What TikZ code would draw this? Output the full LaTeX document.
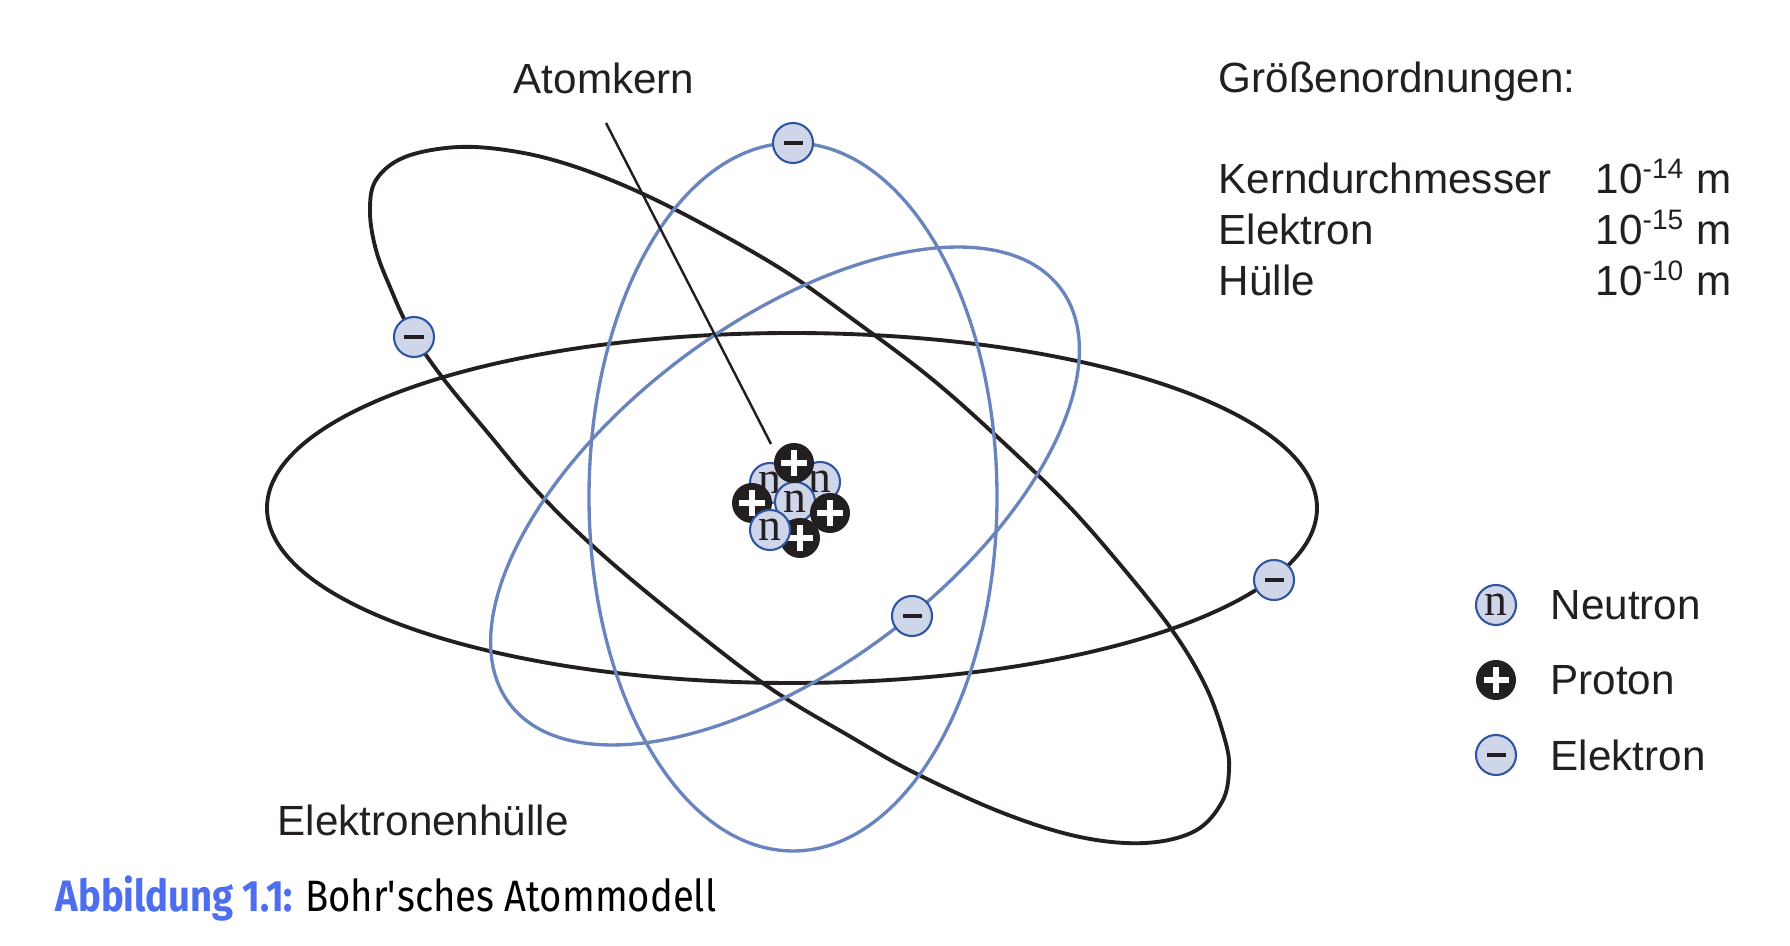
\documentclass[tikz,border=0pt]{standalone}
\usepackage{fontspec}
\setmainfont{Liberation Sans}
\newfontfamily\nfont{Liberation Serif}
\newfontfamily\capfont[FakeStretch=0.87]{Fira Sans}
\usetikzlibrary{positioning}
\definecolor{bahnblau}{RGB}{106,132,190}
\definecolor{randblau}{RGB}{47,85,160}
\definecolor{teilchen}{RGB}{208,214,234}
\definecolor{schwarz}{RGB}{35,31,32}
\definecolor{abbblau}{RGB}{78,110,240}

\tikzset{
  schwarzbahn/.style={draw=schwarz, line width=1.1pt},
  blaubahn/.style={draw=bahnblau, line width=0.95pt},
  txt/.style={text=schwarz, font=\fontsize{12}{14.5}\selectfont, inner sep=0pt},
  neutron/.style={circle, draw=randblau, line width=0.6pt, fill=teilchen,
    minimum size=4mm, inner sep=0pt, text=schwarz,
    font=\nfont\fontsize{13}{13}\selectfont},
  proton/.style={circle, fill=schwarz, minimum size=4mm, inner sep=0pt,
    path picture={
      \draw[white, line width=1.6pt] ([xshift=-1.25mm]path picture bounding box.center) -- ([xshift=1.25mm]path picture bounding box.center);
      \draw[white, line width=1.6pt] ([yshift=-1.25mm]path picture bounding box.center) -- ([yshift=1.25mm]path picture bounding box.center);}},
  elektron/.style={circle, draw=randblau, line width=0.6pt, fill=teilchen,
    minimum size=4mm, inner sep=0pt,
    path picture={
      \draw[schwarz, line width=1.2pt] ([xshift=-0.95mm]path picture bounding box.center) -- ([xshift=0.95mm]path picture bounding box.center);}}
}

\begin{document}
\begin{tikzpicture}[x=0.01cm, y=-0.01cm]
\useasboundingbox (0,0) rectangle (1790,946);

% Bahnen
\draw[schwarzbahn] (792,508) ellipse [x radius=525, y radius=175];
\draw[schwarzbahn] plot[smooth cycle, tension=0.6] coordinates {(459,147) (518,152) (576,167) (641,193) (710,228) (786,272) (851,318) (927,375) (992,432) (1063,500) (1118,562) (1172,630) (1206,687) (1225,740) (1229,770) (1222,802) (1195,831) (1145,843) (1080,837) (1003,813) (915,773) (851,737) (767,686) (671,612) (595,548) (537,491) (488,433) (442,377) (410,330) (390,287) (376,250) (370,212) (376,180) (405,157)};
\draw[blaubahn] (793,497) ellipse [x radius=204, y radius=354];
\draw[blaubahn, rotate around={37:(785,496)}] (785,496) ellipse [x radius=345, y radius=172];

% Atomkern
\node[neutron] (n1) at (770,483) {n};
\node[neutron] (n2) at (820,482) {n};
\node[neutron] (n3) at (795,502) {n};
\node[proton] (p1) at (794,463) {};
\node[proton] (p2) at (752,503) {};
\node[proton] (p4) at (800,538) {};
\node[proton] (p3) at (830,513) {};
\node[neutron] (n4) at (770,530) {n};

% Elektronen
\node[elektron] (e1) at (793,143) {};
\node[elektron] (e2) at (414,337) {};
\node[elektron] (e3) at (912,616) {};
\node[elektron] (e4) at (1274,580) {};

% Beschriftung
\node[txt, anchor=base west] (atomkern) at (513,94) {Atomkern};
\coordinate (zeigeroben) at (606,123);
\coordinate (zeigerunten) at (771,444);
\draw[schwarz, line width=0.7pt] (zeigeroben) -- (zeigerunten);
\node[txt, anchor=base west] (huelle) at (277,835) {Elektronenhülle};

\node[txt, anchor=base west] (groessen) at (1218,93) {Größenordnungen:};
\node[txt, anchor=base west] (kern) at (1218,194) {Kerndurchmesser};
\node[txt, anchor=base west] (elek) at (1218,245) {Elektron};
\node[txt, anchor=base west] (hue) at (1218,296) {Hülle};
\node[txt, anchor=base west] (kernwert) at (1595,194) {10\textsuperscript{-14} m};
\node[txt, anchor=base west] (elekwert) at (1595,245) {10\textsuperscript{-15} m};
\node[txt, anchor=base west] (huewert) at (1595,296) {10\textsuperscript{-10} m};

% Legende
\node[neutron] (lneutron) at (1496,605) {n};
\node[proton] (lproton) at (1496,680) {};
\node[elektron] (lelektron) at (1496,755) {};
\node[txt, right=3.3mm of lneutron] (tneutron) {Neutron};
\node[txt, right=3.3mm of lproton] (tproton) {Proton};
\node[txt, right=3.3mm of lelektron] (telektron) {Elektron};

\node[anchor=base west, inner sep=0pt] (abbildung) at (55,911) {\capfont\fontsize{12.5}{14}\selectfont\color{abbblau}\bfseries Abbildung 1.1: \color{black}\mdseries Bohr\textquotesingle sches Atommodell};
\end{tikzpicture}
\end{document}
